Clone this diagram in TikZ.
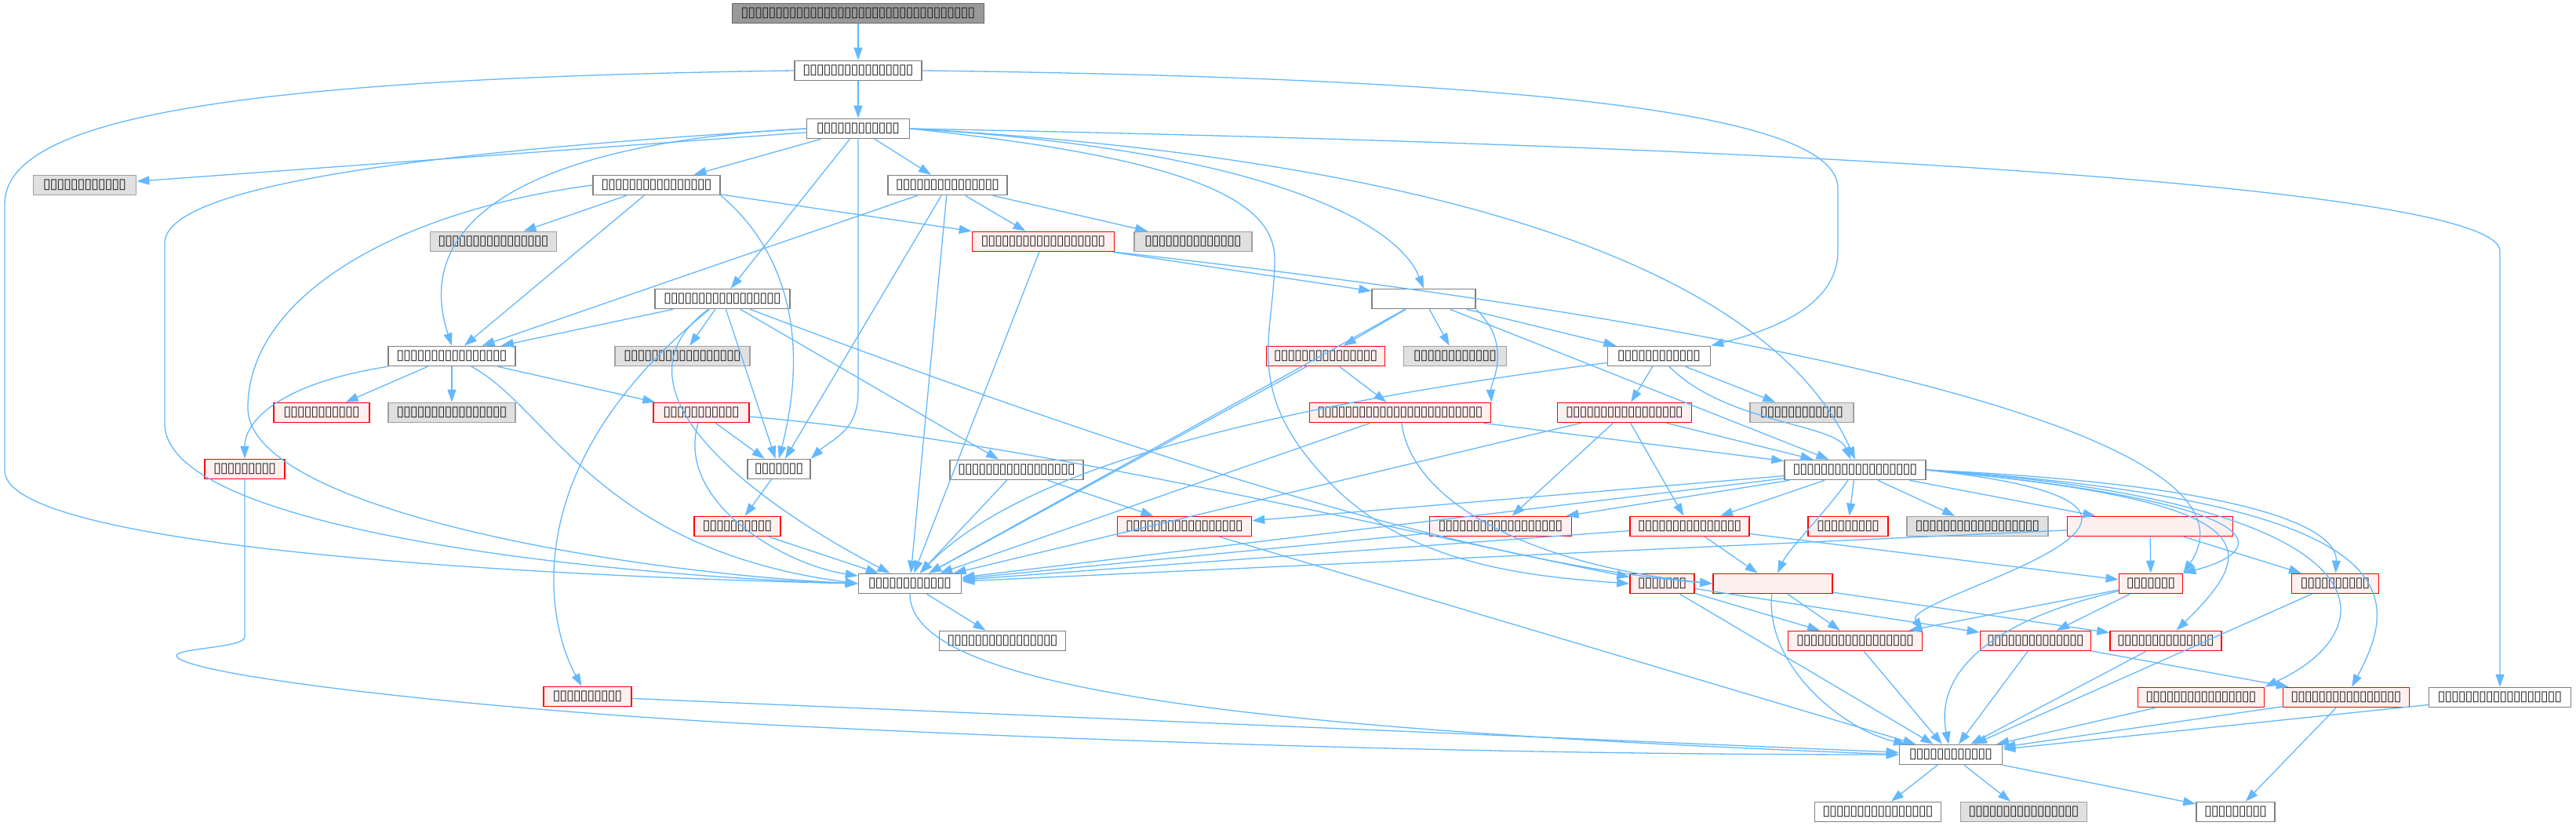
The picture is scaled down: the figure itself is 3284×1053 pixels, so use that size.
\documentclass[tikz,border=0pt]{standalone}
\usepackage{fontspec}
\usepackage{xcolor}
\usepackage{tikz}
\usetikzlibrary{arrows.meta}
\newfontfamily\tofufont{DejaVu Sans}
\definecolor{edgeblue}{HTML}{63B8FF}
\definecolor{boxline}{HTML}{808080}
\definecolor{redfill}{HTML}{FFF0F0}
\definecolor{grayfill}{HTML}{E0E0E0}
\definecolor{grayline}{HTML}{A0A0A0}
\definecolor{rootfill}{HTML}{999999}
\newcommand\glyphs[1]{\foreach \k in {1,...,#1}{\makebox[4.375pt]{▯}}}

\begin{document}
\begin{tikzpicture}[
    x=0.5pt,y=-0.5pt,
    every node/.style={font=\tofufont\fontsize{9}{9}\selectfont,text=black!85},
    filebox/.style={rectangle,draw=boxline,fill=white,line width=0.8pt,minimum height=12.5pt,inner sep=0pt,minimum width=#1*0.5pt},
    missbox/.style={rectangle,draw=red,fill=redfill,line width=0.8pt,minimum height=12.5pt,inner sep=0pt,minimum width=#1*0.5pt},
    sysbox/.style={rectangle,draw=grayline,fill=grayfill,line width=0.8pt,minimum height=12.5pt,inner sep=0pt,minimum width=#1*0.5pt},
    rootbox/.style={rectangle,draw=black!60,fill=rootfill,line width=0.8pt,minimum height=12.5pt,inner sep=0pt,minimum width=#1*0.5pt},
    dep/.style={-{Triangle[length=8pt,width=5.5pt]},edgeblue,line width=0.65pt},
]
\useasboundingbox (0,0) rectangle (3284,1053);

\node[rootbox=321] (root) at (1094,17)  {\glyphs{34}};
\node[filebox=162] (n1)   at (1094,90)  {\glyphs{16}};
\node[filebox=131] (n2)   at (1094,164) {\glyphs{12}};

\node[sysbox=131]  (n3)   at (108,236)  {\glyphs{12}};
\node[filebox=162] (n4)   at (837,236)  {\glyphs{16}};
\node[filebox=152] (n5)   at (1208,236) {\glyphs{15}};

\node[sysbox=161]  (n6)   at (629,308)  {\glyphs{16}};
\node[missbox=181] (n7)   at (1330,308) {\glyphs{18}};
\node[sysbox=150]  (n8)   at (1521,308) {\glyphs{14}};

\node[filebox=172] (n9)   at (921,381)  {\glyphs{17}};
\node[filebox=132] (n10)  at (1815,381) {};

\node[filebox=162] (n11)  at (576,454)  {\glyphs{16}};
\node[sysbox=172]  (n12)  at (870,454)  {\glyphs{17}};
\node[missbox=151] (n13)  at (1690,454) {\glyphs{15}};
\node[sysbox=131]  (n14)  at (1855,454) {\glyphs{12}};
\node[filebox=131] (n15)  at (2115,454) {\glyphs{12}};

\node[missbox=122] (n16)  at (410,526)  {\glyphs{11}};
\node[sysbox=162]  (n17)  at (576,526)  {\glyphs{16}};
\node[missbox=122] (n18)  at (894,526)  {\glyphs{11}};
\node[missbox=231] (n19)  at (1785,526) {\glyphs{24}};
\node[missbox=171] (n20)  at (2071,526) {\glyphs{17}};
\node[sysbox=132]  (n21)  at (2297,526) {\glyphs{12}};

\node[missbox=102] (n22)  at (312,598)  {\glyphs{9}};
\node[filebox=80]  (n23)  at (993,598)  {\glyphs{7}};
\node[filebox=170] (n24)  at (1296,599) {\glyphs{17}};
\node[filebox=180] (n25)  at (2365,599) {\glyphs{18}};

\node[missbox=110] (n26)  at (940,671)  {\glyphs{10}};
\node[missbox=171] (n27)  at (1510,671) {\glyphs{17}};
\node[missbox=181] (n28)  at (1913,671) {\glyphs{18}};
\node[missbox=152] (n29)  at (2154,671) {\glyphs{15}};
\node[missbox=102] (n30)  at (2356,671) {\glyphs{9}};
\node[sysbox=180]  (n31)  at (2521,671) {\glyphs{18}};
\node[missbox=211] (n32)  at (2741,671) {};

\node[filebox=131] (n33)  at (1160,744) {\glyphs{12}};
\node[missbox=82]  (n38)  at (2119,744) {\glyphs{7}};
\node[missbox=152] (n34)  at (2260,744) {};
\node[missbox=81]  (n35)  at (2742,744) {\glyphs{7}};
\node[missbox=111] (n36)  at (2977,744) {\glyphs{10}};

\node[filebox=161] (n37)  at (1278,817) {\glyphs{16}};
\node[missbox=171] (n39)  at (2365,817) {\glyphs{17}};
\node[missbox=141] (n40)  at (2595,817) {\glyphs{14}};
\node[missbox=142] (n41)  at (2761,817) {\glyphs{14}};

\node[missbox=112] (n42)  at (749,888)  {\glyphs{10}};
\node[missbox=161] (n43)  at (2806,889) {\glyphs{16}};
\node[missbox=161] (n44)  at (2991,889) {\glyphs{16}};
\node[filebox=181] (n45)  at (3187,889) {\glyphs{18}};

\node[filebox=131] (n46)  at (2487,962) {\glyphs{12}};

\node[filebox=161] (n47)  at (2394,1035) {\glyphs{16}};
\node[sysbox=161]  (n48)  at (2580,1035) {\glyphs{16}};
\node[filebox=100] (n49)  at (2850,1035) {\glyphs{9}};

% top levels
\draw[dep] (root) -- (n1);
\draw[dep] (n1) -- (n2);
\draw[dep] (n1.west) .. controls (300,100) and (6,150) .. (6,260) -- (6,600) .. controls (6,700) and (700,735) .. (n33.west);
\draw[dep] (n1.east) .. controls (2000,100) and (2343,150) .. (2343,240) -- (2343,320) .. controls (2343,390) and (2260,420) .. (n15.north east);
\draw[dep] (n2) -- (n3);
\draw[dep] (n2) -- (n4);
\draw[dep] (n2) -- (n5);
\draw[dep] (n2) -- (n9);
\draw[dep] (n2.west) .. controls (700,180) and (520,270) .. (n11.north);
\draw[dep] (n2.south) -- (1094,500) .. controls (1094,550) and (1060,560) .. (n23.north east);
\draw[dep] (n2.west) .. controls (600,190) and (210,230) .. (210,310) -- (210,540) .. controls (210,680) and (800,735) .. (n33.west);
\draw[dep] (n2.east) .. controls (1600,190) and (1780,280) .. (n10.north);
\draw[dep] (n2.east) .. controls (1500,200) and (1625,250) .. (1625,330) .. controls (1625,430) and (1580,500) .. (1700,620) .. controls (1800,720) and (1950,735) .. (n38.west);
\draw[dep] (n2.east) .. controls (1800,200) and (2250,330) .. (n25.north);
\draw[dep] (n2.east) .. controls (2500,190) and (3187,250) .. (3187,320) -- (n45.north);

% second level
\draw[dep] (n4) -- (n6);
\draw[dep] (n4) -- (n7);
\draw[dep] (n4) -- (n11);
\draw[dep] (n4.west) .. controls (500,270) and (316,380) .. (316,520) .. controls (316,650) and (800,730) .. (n33.west);
\draw[dep] (n4.south east) .. controls (980,300) and (1040,400) .. (n23.north);
\draw[dep] (n5) -- (n7);
\draw[dep] (n5) -- (n8);
\draw[dep] (n5) -- (n11);
\draw[dep] (n5) -- (n23);
\draw[dep] (n5) -- (n33);
\draw[dep] (n7) -- (n10);
\draw[dep] (n7) -- (n33);
\draw[dep] (n7.south east) .. controls (2300,420) and (2900,560) .. (n35.north east);
\draw[dep] (n9) -- (n11);
\draw[dep] (n9) -- (n12);
\draw[dep] (n9) -- (n23);
\draw[dep] (n9) -- (n24);
\draw[dep] (n9) .. controls (760,500) and (980,650) .. (n33);
\draw[dep] (n9) .. controls (650,600) and (700,800) .. (n42);
\draw[dep] (n9) .. controls (1500,600) and (1900,720) .. (n34.west);
\draw[dep] (n10) -- (n13);
\draw[dep] (n10) -- (n14);
\draw[dep] (n10) -- (n15);
\draw[dep] (n10.south east) .. controls (1930,440) and (1900,490) .. (n19.north east);
\draw[dep] (n10) -- (n33);
\draw[dep] (n10) -- (n25);
\draw[dep] (n11) -- (n16);
\draw[dep] (n11) -- (n17);
\draw[dep] (n11) -- (n18);
\draw[dep] (n11.south west) .. controls (350,490) and (312,540) .. (n22.north);
\draw[dep] (n11) .. controls (700,520) and (760,700) .. (n33.west);
\draw[dep] (n13) -- (n19);
\draw[dep] (n13) -- (n33);
\draw[dep] (n15) -- (n20);
\draw[dep] (n15) -- (n21);
\draw[dep] (n15) .. controls (2200,540) and (2340,540) .. (n25);
\draw[dep] (n15) .. controls (1600,520) and (1300,600) .. (n33);
\draw[dep] (n18) -- (n23);
\draw[dep] (n18) .. controls (860,640) and (1000,720) .. (n33);
\draw[dep] (n18) .. controls (1300,560) and (1800,680) .. (n38);
\draw[dep] (n19) -- (n25);
\draw[dep] (n19) -- (n33);
\draw[dep] (n19) .. controls (1800,640) and (1950,720) .. (n34.west);
\draw[dep] (n20) -- (n25);
\draw[dep] (n20) -- (n28);
\draw[dep] (n20) -- (n29);
\draw[dep] (n20) -- (n33);
\draw[dep] (n22.south) -- (312,812) .. controls (312,826) and (225,826) .. (225,836) .. controls (230,860) and (600,905) .. (1000,925) .. controls (1700,960) and (2200,962) .. (n46.west);
\draw[dep] (n23) -- (n26);
\draw[dep] (n24) -- (n27);
\draw[dep] (n24) -- (n33);

% lower levels
\draw[dep] (n25) -- (n27);
\draw[dep] (n25) -- (n28);
\draw[dep] (n25) -- (n29);
\draw[dep] (n25) -- (n30);
\draw[dep] (n25) -- (n31);
\draw[dep] (n25) -- (n32);
\draw[dep] (n25) -- (n33);
\draw[dep] (n25) .. controls (2330,650) and (2280,700) .. (n34);
\draw[dep] (n25.east) .. controls (2900,640) and (2900,700) .. (n35.north east);
\draw[dep] (n25.east) .. controls (2900,620) and (2980,680) .. (n36);
\draw[dep] (n25.east) .. controls (2920,650) and (2420,760) .. (n39.north east);
\draw[dep] (n25.east) .. controls (2900,640) and (2880,700) .. (n41);
\draw[dep] (n25.east) .. controls (3050,640) and (3050,800) .. (n43.north east);
\draw[dep] (n25.east) .. controls (3080,640) and (3060,760) .. (n44);
\draw[dep] (n26) -- (n33);
\draw[dep] (n27) -- (n46);
\draw[dep] (n28) -- (n33);
\draw[dep] (n29) -- (n33);
\draw[dep] (n29) -- (n34);
\draw[dep] (n29) -- (n35);
\draw[dep] (n32) -- (n33);
\draw[dep] (n32) -- (n35);
\draw[dep] (n32) -- (n36);
\draw[dep] (n33) -- (n37);
\draw[dep] (n33.south) .. controls (1160,880) and (1600,930) .. (n46.west);
\draw[dep] (n34) -- (n39);
\draw[dep] (n34) -- (n41);
\draw[dep] (n34) .. controls (2250,850) and (2350,930) .. (n46);
\draw[dep] (n35) -- (n39);
\draw[dep] (n35) -- (n40);
\draw[dep] (n35) .. controls (2500,800) and (2470,880) .. (n46);
\draw[dep] (n36) -- (n46);
\draw[dep] (n38) -- (n39);
\draw[dep] (n38) -- (n40);
\draw[dep] (n38) -- (n46);
\draw[dep] (n39) -- (n46);
\draw[dep] (n40) -- (n44);
\draw[dep] (n40) -- (n46);
\draw[dep] (n41) -- (n46);
\draw[dep] (n42) -- (n46);
\draw[dep] (n43) -- (n46);
\draw[dep] (n44) -- (n46);
\draw[dep] (n44) -- (n49);
\draw[dep] (n45) -- (n46);
\draw[dep] (n46) -- (n47);
\draw[dep] (n46) -- (n48);
\draw[dep] (n46) -- (n49);
\end{tikzpicture}
\end{document}
